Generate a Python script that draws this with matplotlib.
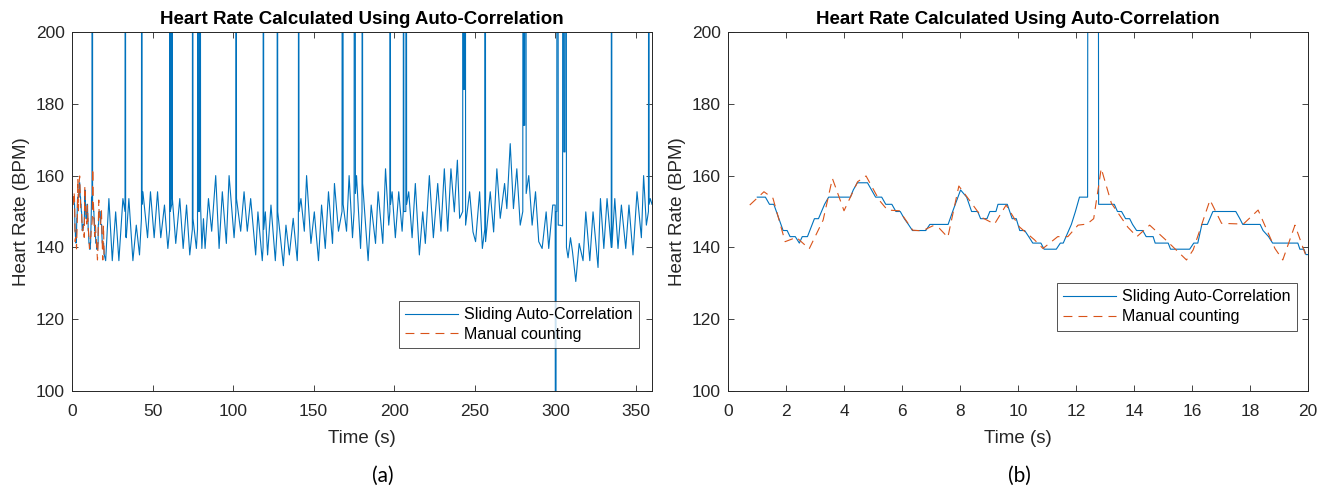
import numpy as np
import matplotlib.pyplot as plt

# Sliding auto-correlation estimate, first 20 s
sac_t = [1.01, 1.29, 1.43, 1.58, 1.90, 2.04, 2.14, 2.32, 2.46, 2.56,
         2.74, 2.98, 3.12, 3.33, 3.47, 4.22, 4.32, 4.46, 4.81, 4.95,
         5.09, 5.30, 5.44, 5.65, 5.79, 5.94, 6.08, 6.22, 6.36, 6.82,
         6.96, 7.59, 7.76, 8.02, 8.23, 8.40, 8.61, 8.71, 8.93, 9.03,
         9.24, 9.31, 9.63, 9.80, 9.94, 10.06, 10.23, 10.37, 10.51, 10.79,
         10.90, 11.32, 11.46, 11.56, 11.84, 11.98, 12.12, 12.40, 12.41, 12.77,
         12.78, 13.32, 13.43, 13.57, 13.71, 13.85, 13.95, 14.09, 14.30, 14.42,
         14.66, 14.73, 15.18, 15.26, 15.92, 16.06, 16.20, 16.34, 16.53, 16.72,
         17.51, 17.65, 17.75, 18.35, 18.45, 18.64, 18.78, 19.65, 19.72, 19.86,
         19.93, 20.0]
sac_hr = [154, 154, 152, 152, 144.7, 144.7, 143, 143, 141.2, 143,
          143, 148, 148, 152, 154, 154, 156, 158, 158, 156,
          154, 154, 152, 152, 150, 150, 148, 146.4, 144.7, 144.7,
          146.4, 146.4, 150.3, 156, 154, 150, 150, 148, 148, 150,
          150, 152, 152, 148, 148, 144.7, 144.7, 143, 141.2, 141.2,
          139.5, 139.5, 141.2, 141.2, 146.4, 150, 154, 154, 250, 250,
          152, 152, 150, 150, 148, 148, 146.4, 144.7, 144.7, 143,
          143, 141.2, 141.2, 139.5, 139.5, 141.2, 141.2, 146.4, 146.4, 150,
          150, 148, 146.4, 146.4, 144.7, 143, 141.2, 141.2, 139.5, 139.5,
          138, 138]

# Manual counting (beat to beat)
man_t = [0.75, 1.24, 1.55, 1.97, 2.36, 2.80, 3.28, 3.60, 4.00, 4.47,
         4.76, 5.22, 5.50, 5.91, 6.37, 6.70, 7.06, 7.29, 7.58, 7.96,
         8.33, 8.76, 9.19, 9.59, 10.05, 10.57, 10.86, 11.37, 11.72, 12.07,
         12.38, 12.61, 12.87, 13.22, 13.79, 14.10, 14.54, 15.12, 15.81, 16.04,
         16.62, 17.02, 17.77, 18.28, 18.86, 19.13, 19.55, 19.98]
man_hr = [151.8, 155.5, 153.7, 141.6, 142.8, 139.6, 147.6, 159.2, 150.2, 158.3,
          159.9, 153.1, 150.4, 150.2, 144.8, 144.6, 146.0, 145.3, 142.8, 157.1,
          153.1, 148.3, 146.5, 151.8, 145.7, 142.1, 139.7, 143.0, 143.0, 146.2,
          146.5, 148.0, 162.0, 152.3, 145.6, 143.0, 146.2, 141.9, 136.5, 139.3,
          153.2, 146.7, 146.5, 150.4, 139.7, 136.5, 146.2, 136.5]

# Sliding auto-correlation after 20 s (panel a), spikes included
long_t = [20.9, 22.9, 25.0, 27.1, 29.1, 31.6, 32.9, 33.0,
          33.2, 33.3, 33.7, 35.3, 37.8, 39.9, 41.9, 43.1,
          43.2, 43.4, 43.5, 44.0, 46.9, 48.7, 51.0, 53.1,
          55.1, 57.4, 59.5, 60.6, 60.7, 60.9, 61.0, 61.9,
          62.0, 62.2, 62.3, 64.4, 66.9, 69.0, 71.1, 73.1,
          74.7, 74.8, 75.0, 75.1, 77.2, 77.9, 78.0, 78.3,
          78.4, 79.1, 79.2, 79.7, 79.8, 80.6, 81.6, 82.6,
          84.7, 86.7, 89.2, 91.3, 93.3, 95.8, 97.5, 100.6,
          101.7, 101.8, 102.0, 102.1, 104.7, 106.8, 108.8, 110.9,
          114.0, 115.4, 118.1, 118.6, 118.7, 118.9, 119.0, 120.0,
          121.4, 123.5, 126.2, 127.3, 127.4, 127.6, 127.7, 131.2,
          132.8, 134.9, 137.3, 139.8, 140.5, 140.6, 140.8, 140.9,
          142.1, 144.2, 145.6, 148.3, 150.4, 153.0, 154.9, 157.2,
          159.2, 161.7, 162.9, 165.4, 167.6, 167.7, 168.2, 168.3,
          170.4, 172.0, 174.1, 175.1, 175.2, 175.8, 175.9, 176.6,
          179.1, 180.0, 180.1, 180.3, 180.4, 183.8, 185.7, 188.4,
          190.0, 192.9, 194.6, 196.6, 197.3, 197.4, 197.6, 197.7,
          198.7, 200.7, 202.8, 204.9, 205.6, 205.7, 205.9, 206.0,
          207.2, 207.3, 207.6, 207.7, 209.0, 211.1, 213.1, 215.6,
          217.7, 219.3, 221.8, 224.3, 227.0, 229.0, 231.1, 233.2,
          235.2, 237.3, 239.2, 240.6, 242.5, 242.6, 242.9, 243.0,
          243.6, 243.7, 244.2, 244.3, 246.8, 248.9, 250.5, 253.0,
          254.7, 256.2, 256.3, 256.6, 256.7, 259.6, 261.7, 263.7,
          265.8, 268.5, 269.9, 272.0, 274.0, 276.1, 278.2, 279.8,
          279.9, 280.3, 280.4, 281.0, 281.1, 281.8, 281.9, 283.5,
          285.6, 287.7, 289.7, 291.8, 294.3, 295.9, 298.4, 299.9,
          300.0, 300.4, 300.5, 300.9, 301.0, 301.7, 301.8, 302.8,
          304.5, 304.6, 305.2, 305.3, 306.0, 306.1, 306.8, 306.9,
          307.9, 309.4, 310.6, 312.7, 314.8, 317.2, 318.9, 321.4,
          323.4, 326.5, 328.0, 330.1, 332.1, 334.7, 334.8, 335.0,
          335.1, 336.9, 338.9, 341.0, 343.7, 345.7, 348.2, 350.7,
          353.4, 354.8, 356.5, 357.8, 357.9, 358.1, 358.2, 358.9,
          360.0]
long_hr = [136.3, 153.6, 136.3, 149.9, 136.3, 153.6, 150, 250,
           250, 143, 142.7, 153.6, 136.3, 146.2, 137.9, 148,
           250, 250, 152, 155.5, 142.7, 155.5, 142.7, 155.5,
           142.7, 151.8, 139.7, 145, 250, 250, 150, 152,
           250, 250, 153.6, 141.1, 153.6, 139.7, 151.8, 137.9,
           145, 250, 250, 148, 139.7, 145, 250, 250,
           150, 150, 250, 250, 151.8, 139.7, 148, 139.7,
           153.6, 144.5, 160, 139.7, 155.5, 141.1, 160, 142.7,
           150, 250, 250, 153.6, 144.5, 155.5, 144.5, 153.6,
           137.9, 149.9, 136.3, 140, 250, 250, 145, 149.9,
           137.9, 151.8, 136.3, 145, 250, 250, 149.9, 134.9,
           146.2, 137.9, 148.1, 136.3, 145, 250, 250, 150,
           153.6, 144.5, 160, 141.1, 149.9, 136.3, 151.8, 139.7,
           155.5, 141.1, 157.8, 144.5, 150, 250, 250, 152,
           144.5, 160, 142.7, 150, 250, 250, 155, 160,
           139.7, 150, 250, 250, 157.8, 136.3, 151.8, 141.1,
           155.5, 141.1, 161.9, 146.2, 150, 250, 250, 152,
           155.5, 142.7, 155.5, 144.5, 150, 250, 250, 150,
           150, 250, 250, 152, 155.5, 142.7, 157.8, 137.9,
           149.9, 141.1, 160, 142.7, 157.8, 144.5, 161.9, 144.5,
           161.9, 149.9, 164.3, 148.1, 150, 250, 250, 184,
           184, 250, 250, 146.2, 155.5, 144.3, 141.6, 155.5,
           139.7, 145, 250, 250, 141.6, 155.5, 144.3, 161.9,
           148.1, 157.8, 150.8, 168.9, 150.8, 161.9, 146.2, 150,
           250, 250, 174, 174, 250, 250, 155, 160,
           146.2, 155.5, 141.6, 139.7, 149.9, 139.7, 151.8, 151.8,
           80, 80, 150, 150, 250, 250, 146.2, 146.2,
           146, 250, 250, 166.6, 166.6, 250, 250, 140,
           137.1, 142.7, 139, 130.5, 141.1, 136.3, 149.9, 136.3,
           149.9, 134.4, 153.6, 139.7, 153.6, 140, 250, 250,
           140, 153.6, 139.7, 151.8, 139.7, 151.8, 137.9, 155.5,
           142.7, 160, 146.2, 150, 250, 250, 152, 153.6,
           152]

title = "Heart Rate Calculated Using Auto-Correlation"
blue = "#0072BD"
orange = "#D95319"
dark = "#262626"

plt.rcParams["font.family"] = ["Liberation Sans", "DejaVu Sans"]

fig = plt.figure(figsize=(13.3, 4.93), dpi=100)
ax_a = fig.add_axes([72 / 1330, 102 / 493, 580 / 1330, 359 / 493])
ax_b = fig.add_axes([728 / 1330, 102 / 493, 580 / 1330, 359 / 493])

# (a) full recording
full_t = np.concatenate([sac_t, long_t])
full_hr = np.concatenate([sac_hr, long_hr])
ax_a.plot(full_t, full_hr, color=blue, lw=0.8, label="Sliding Auto-Correlation")
ax_a.plot(man_t, man_hr, color=orange, lw=0.8, dashes=(8, 5.5), label="Manual counting")

# (b) first 20 seconds
ax_b.plot(sac_t, sac_hr, color=blue, lw=0.8, label="Sliding Auto-Correlation")
ax_b.plot(man_t, man_hr, color=orange, lw=0.8, dashes=(8, 5.5), label="Manual counting")


def style_axes(ax, xmax, xticks, leg_anchor):
    ax.set_xlim(0, xmax)
    ax.set_ylim(100, 200)
    ax.set_xticks(xticks)
    ax.set_yticks(np.arange(100, 201, 20))
    ax.tick_params(direction="in", top=True, right=True, length=4, width=0.6,
                   colors=dark, labelsize=12.5)
    ax.tick_params(axis="x", pad=9)
    ax.tick_params(axis="y", pad=5)
    for sp in ax.spines.values():
        sp.set_color(dark)
        sp.set_linewidth(0.7)
    ax.set_xlabel("Time (s)", fontsize=13.5, color=dark, labelpad=8)
    ax.set_ylabel("Heart Rate (BPM)", fontsize=13.5, color=dark, labelpad=4)
    ax.set_title(title, fontsize=13.5, fontweight="bold", color="black", pad=6)
    leg = ax.legend(loc="upper right", bbox_to_anchor=leg_anchor, borderaxespad=0,
                    fontsize=11.5, frameon=True, fancybox=False, handlelength=3.3,
                    handletextpad=0.4, borderpad=0.4, labelspacing=0.3)
    leg.get_frame().set_edgecolor(dark)
    leg.get_frame().set_linewidth(0.7)


style_axes(ax_a, 360, np.arange(0, 351, 50), (0.978, 0.251))
style_axes(ax_b, 20, np.arange(0, 21, 2), (0.981, 0.301))

fig.text(383 / 1330, 1 - 476 / 493, "(a)", ha="center", va="center",
         fontsize=15, family="Lato")
fig.text(1019 / 1330, 1 - 476 / 493, "(b)", ha="center", va="center",
         fontsize=15, family="Lato")

fig.savefig("out.png", dpi=100)
